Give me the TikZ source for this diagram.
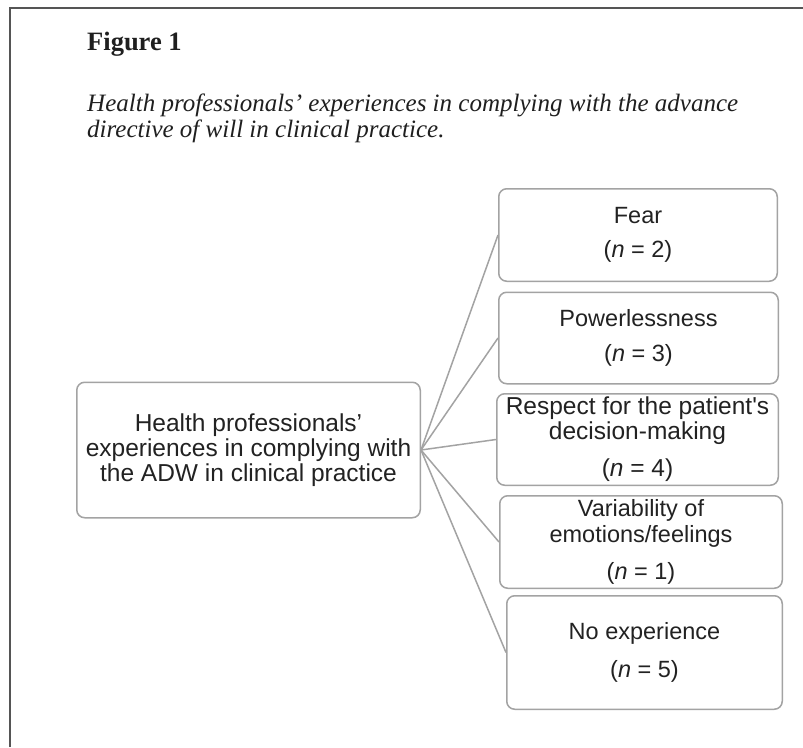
\documentclass[tikz,border=0pt]{standalone}
\usepackage{fontspec}
\setmainfont{Liberation Serif}
\newfontfamily\boxfont{Liberation Sans}
\usetikzlibrary{positioning}
\definecolor{framegray}{HTML}{555555}
\definecolor{boxgray}{HTML}{A3A3A3}
\definecolor{txtgray}{HTML}{222222}
\tikzset{
  themebox/.style={draw=boxgray, line width=1.5pt, rounded corners=8pt, fill=white,
    inner sep=0pt, align=center, text=txtgray,
    font=\boxfont\fontsize{23.5}{25.5}\selectfont},
  link/.style={draw=boxgray, line width=1.5pt},
  captionline/.style={anchor=base west, inner sep=0pt, text=black!88,
    font=\fontsize{25}{28}\selectfont\itshape},
}
\begin{document}
\begin{tikzpicture}[x=1pt,y=-1pt]
\useasboundingbox (0,0) rectangle (803,747);
\fill[white] (0,0) rectangle (803,747);
% frame
\draw[framegray, line width=1.6pt] (10,747) -- (10,8) -- (803,8);
% title and caption
\node[anchor=base west, inner sep=0pt, text=black!88, font=\fontsize{26.5}{30}\selectfont\bfseries] (title) at (87,50) {Figure 1};
\node[captionline] (cap1) at (87,111) {Health professionals’ experiences in complying with the advance};
\node[captionline] (cap2) at (87,137) {directive of will in clinical practice.};
% boxes
\node[themebox, minimum width=343.5pt, minimum height=135.5pt, font=\boxfont\fontsize{24.5}{25}\selectfont] (main) at (248.5,450)
  {Health professionals’\\experiences in complying with\\the ADW in clinical practice};
\node[themebox, minimum width=278.5pt, minimum height=92.5pt] (fear) at (638,235)
  {Fear\\[9pt](\textit{n} = 2)};
\node[themebox, minimum width=279.5pt, minimum height=91.5pt] (power) at (638.5,338)
  {Powerlessness\\[9.5pt](\textit{n} = 3)};
\node[themebox, minimum width=281.5pt, minimum height=91.5pt, font=\boxfont\fontsize{24.5}{25}\selectfont] (respect) at (637.5,439.5)
  {Respect for the patient's\\decision-making\\[12pt](\textit{n} = 4)};
\node[themebox, minimum width=282.5pt, minimum height=92.5pt] (variab) at (641,542)
  {Variability of\\emotions/feelings\\[12pt](\textit{n} = 1)};
\node[themebox, minimum width=275.5pt, minimum height=113.5pt] (noexp) at (644.5,652.5)
  {No experience\\[12pt](\textit{n} = 5)};
% connectors
\foreach \t in {fear,power,respect,variab,noexp}
  \draw[link] (main.east) -- (\t.west);
\end{tikzpicture}
\end{document}
